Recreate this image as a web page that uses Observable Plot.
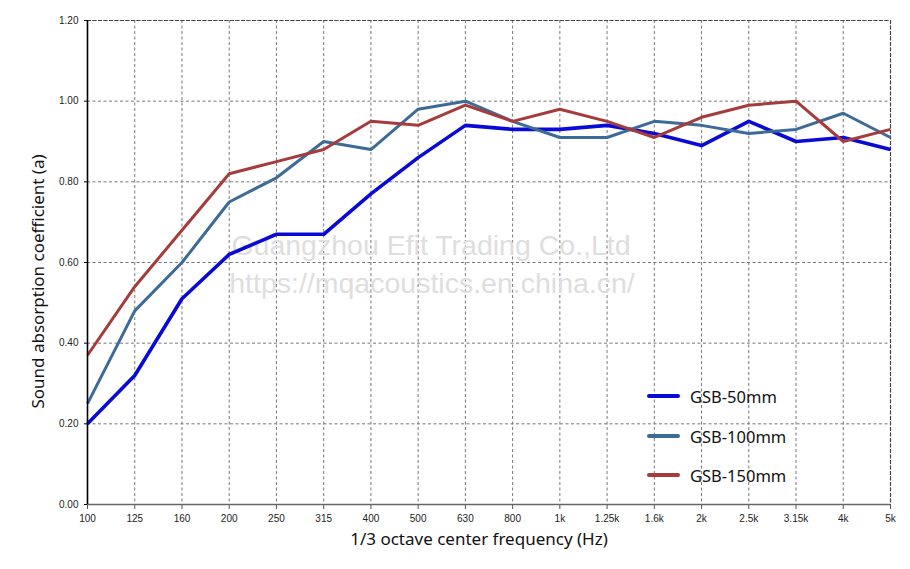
<!DOCTYPE html>
<html>
<head>
<meta charset="utf-8">
<script src="https://cdn.jsdelivr.net/npm/d3@7"></script>
<script src="https://cdn.jsdelivr.net/npm/@observablehq/plot@0.6"></script>
<style>
  html, body { margin: 0; padding: 0; background: #fff; }
  #wrap { position: relative; width: 910px; height: 569px; }
  .legend { position: absolute; left: 647px; top: 0; font-family: "Noto Sans", "DejaVu Sans", sans-serif; font-size: 16.5px; color: #111; }
  .legend .item { position: absolute; left: 0; height: 20px; display: flex; align-items: center; white-space: nowrap; }
  .legend .swatch { width: 33px; height: 4px; border-radius: 2px; margin-right: 10px; }
</style>
</head>
<body>
<div id="wrap"></div>
<script>
const frequencies = ["100","125","160","200","250","315","400","500","630","800","1k","1.25k","1.6k","2k","2.5k","3.15k","4k","5k"];
const seriesNames = ["GSB-50mm", "GSB-100mm", "GSB-150mm"];
const gsb50  = [0.20,0.32,0.51,0.62,0.67,0.67,0.77,0.86,0.94,0.93,0.93,0.94,0.92,0.89,0.95,0.90,0.91,0.88];
const gsb100 = [0.25,0.48,0.60,0.75,0.81,0.90,0.88,0.98,1.00,0.95,0.91,0.91,0.95,0.94,0.92,0.93,0.97,0.91];
const gsb150 = [0.37,0.54,0.68,0.82,0.85,0.88,0.95,0.94,0.99,0.95,0.98,0.95,0.91,0.96,0.99,1.00,0.90,0.93];
const yTicks = [0, 0.2, 0.4, 0.6, 0.8, 1.0, 1.2];
const seriesColors = ["#0a0ad6", "#3d6b98", "#a53b3b"];
const seriesWidths = [3.6, 3, 3];

const allValues = [gsb50, gsb100, gsb150];
const data = [];
allValues.forEach((vals, si) => vals.forEach((v, i) => data.push({series: seriesNames[si], freq: frequencies[i], value: v})));

const font = "'Liberation Sans', Arial, sans-serif";
const titleFont = "'Noto Sans', 'DejaVu Sans', sans-serif";

const chart = Plot.plot({
  width: 910,
  height: 569,
  marginLeft: 87,
  marginRight: 20,
  marginTop: 20,
  marginBottom: 65,
  style: {fontFamily: font, fontSize: "10px", color: "#222", background: "#fff"},
  x: {type: "point", domain: frequencies, padding: 0, round: false},
  y: {domain: [0, 1.2], ticks: yTicks},
  marks: [
    Plot.gridX(frequencies, {stroke: "#777", strokeOpacity: 1, strokeDasharray: "3,2.5", strokeWidth: 1}),
    Plot.gridY(yTicks.slice(1), {stroke: "#777", strokeOpacity: 1, strokeDasharray: "3,2.5", strokeWidth: 1}),
    Plot.frame({anchor: "top", stroke: "#444", strokeDasharray: "3,2.5", strokeWidth: 1.2}),
    Plot.frame({anchor: "right", stroke: "#444", strokeDasharray: "3,2.5", strokeWidth: 1.2}),
    Plot.text(["Guangzhou Efit Trading Co.,Ltd"], {frameAnchor: "middle", dx: -58, dy: -17, text: d => d, fill: "#dedede", fontSize: 28.5, fontFamily: font}),
    Plot.text(["https://mqacoustics.en.china.cn/"], {frameAnchor: "middle", dx: -57, dy: 21, text: d => d, fill: "#dedede", fontSize: 28.5, fontFamily: font}),
    ...seriesNames.map((name, si) => Plot.line(data.filter(d => d.series === name), {
      x: "freq", y: "value", stroke: seriesColors[si], strokeWidth: seriesWidths[si], strokeLinejoin: "miter", strokeLinecap: "butt"
    })),
    Plot.axisX({tickSize: 5, tickPadding: 5, label: null, stroke: "#555", fontSize: 10}),
    Plot.ruleY([0], {stroke: "#666", strokeWidth: 1.5}),
    Plot.axisY({ticks: yTicks, tickSize: 3, tickPadding: 6, tickFormat: d3.format(".2f"), label: null, stroke: "#000", fontSize: 10}),
    Plot.ruleX([frequencies[0]], {stroke: "#000", strokeWidth: 1.6}),
    Plot.text(["1/3 octave center frequency (Hz)"], {frameAnchor: "bottom", dx: -10, dy: 40, text: d => d, fontSize: 17, fill: "#111", fontFamily: titleFont}),
    Plot.text(["Sound absorption coefficient (a)"], {frameAnchor: "left", textAnchor: "middle", dx: -49, dy: 19, rotate: -90, text: d => d, fontSize: 17, fill: "#111", fontFamily: titleFont})
  ]
});

const wrap = document.getElementById("wrap");
wrap.appendChild(chart);

const legend = document.createElement("div");
legend.className = "legend";
const legendTops = [386, 426, 465];
seriesNames.forEach((name, i) => {
  const item = document.createElement("div");
  item.className = "item";
  item.style.top = legendTops[i] + "px";
  const sw = document.createElement("div");
  sw.className = "swatch";
  sw.style.background = seriesColors[i];
  const label = document.createElement("span");
  label.textContent = name;
  item.appendChild(sw);
  item.appendChild(label);
  legend.appendChild(item);
});
wrap.appendChild(legend);
</script>
</body>
</html>
